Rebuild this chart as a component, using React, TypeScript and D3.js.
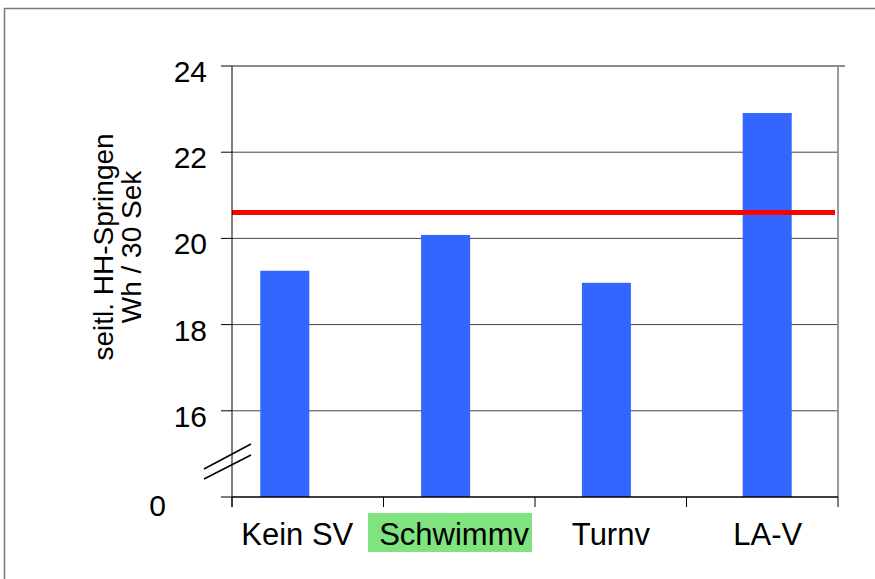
import React from "react";
import * as d3 from "d3";

const categories = ["Kein SV", "Schwimmv", "Turnv", "LA-V"];
const values = [19.25, 20.08, 18.97, 22.91];
const referenceValue = 20.6;
const yTicks = [16, 18, 20, 22, 24];
const yBreakValue = 14; // shown as "0" after the axis break
const yBreakLabel = "0";
const highlighted = "Schwimmv";
const titleLines = ["seitl. HH-Springen", "Wh / 30 Sek"];

const W = 875;
const H = 579;
const left = 232;
const right = 838;
const top = 66;
const bottom = 497;

export default function App() {
  const y = d3.scaleLinear().domain([yBreakValue, 24]).range([bottom, top]);
  const xAxis = d3.scaleBand<string>().domain(categories).range([left, right]).padding(0);
  const xBars = d3
    .scaleBand<string>()
    .domain(categories)
    .range([204.4, 847.6])
    .paddingInner(0.695)
    .paddingOuter(0.3475);
  const xLabels = d3.scaleBand<string>().domain(categories).range([218.9, 846.1]);
  const font = "'Liberation Sans', Arial, sans-serif";
  const boundaries = [...categories.map((c) => xAxis(c)!), right];

  return (
    <svg
      width={W}
      height={H}
      style={{ position: "absolute", left: 0, top: 0, background: "#fff" }}
      fontFamily={font}
    >
      {/* outer frame */}
      <rect x={4.5} y={8.5} width={1000} height={1000} fill="none" stroke="#777" strokeWidth={1.5} />

      {/* gridlines */}
      {yTicks.slice(0, -1).map((t) => (
        <line key={t} x1={left} x2={right} y1={y(t)} y2={y(t)} stroke="#444" strokeWidth={1} />
      ))}
      {/* plot frame top & right */}
      <line x1={left} x2={845} y1={y(24)} y2={y(24)} stroke="#8a8a8a" strokeWidth={2} />
      <line x1={right} x2={right} y1={y(24)} y2={bottom} stroke="#9a9a9a" strokeWidth={2} />

      {/* bars */}
      {categories.map((c, i) => (
        <rect
          key={c}
          x={xBars(c)}
          width={xBars.bandwidth()}
          y={y(values[i])}
          height={y(yBreakValue) - y(values[i])}
          fill="#3366ff"
        />
      ))}

      {/* reference line */}
      <line
        x1={left}
        x2={835}
        y1={y(referenceValue)}
        y2={y(referenceValue)}
        stroke="#ff0000"
        strokeWidth={5}
      />

      {/* y axis */}
      <line x1={left} x2={left} y1={y(24)} y2={bottom + 10} stroke="#000" strokeWidth={1} />
      {[...yTicks, yBreakValue].map((t) => (
        <line key={"t" + t} x1={221} x2={left} y1={y(t)} y2={y(t)} stroke="#000" strokeWidth={1} />
      ))}
      {yTicks.map((t) => (
        <text key={"l" + t} x={207} y={y(t) + 16} fontSize={30} textAnchor="end" fill="#000">
          {t}
        </text>
      ))}
      <text x={166} y={y(yBreakValue) + 19} fontSize={30} textAnchor="end" fill="#000">
        {yBreakLabel}
      </text>

      {/* axis break marks */}
      <line x1={204} y1={469} x2={251} y2={444} stroke="#000" strokeWidth={1.5} />
      <line x1={204} y1={479} x2={251} y2={455} stroke="#000" strokeWidth={1.5} />

      {/* x axis */}
      <line x1={left} x2={right} y1={bottom} y2={bottom} stroke="#000" strokeWidth={1.5} />
      {boundaries.map((b, i) => (
        <line key={"xb" + i} x1={b} x2={b} y1={bottom} y2={bottom + 10} stroke="#000" strokeWidth={1} />
      ))}
      {categories.map((c) => {
        const cx = xLabels(c)! + xLabels.bandwidth() / 2;
        return (
          <g key={"xl" + c}>
            {c === highlighted && <rect x={368} y={513} width={164} height={39} fill="#7fe37f" />}
            <text x={cx} y={545} fontSize={31} textAnchor="middle" fill="#000">
              {c}
            </text>
          </g>
        );
      })}

      {/* y title */}
      {titleLines.map((t, i) => (
        <text
          key={t}
          transform={`translate(${113 + i * 28},247) rotate(-90)`}
          fontSize={28}
          textAnchor="middle"
          fill="#000"
        >
          {t}
        </text>
      ))}
    </svg>
  );
}
